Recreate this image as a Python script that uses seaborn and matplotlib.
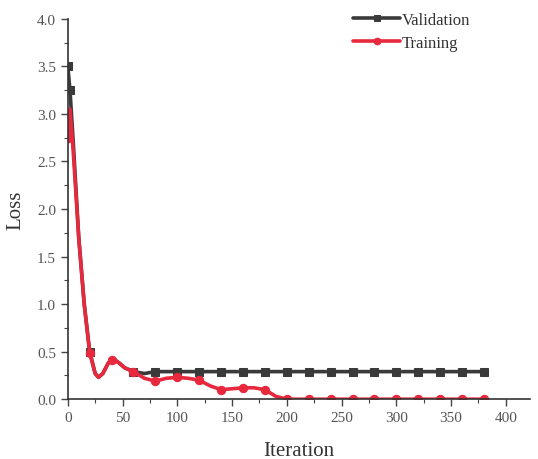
import numpy as np
import pandas as pd
import matplotlib
matplotlib.use("Agg")
import matplotlib.pyplot as plt
from matplotlib.ticker import MultipleLocator
import seaborn as sns

# ---- data ----
val_iter = [0, 2, 5, 10, 15, 20, 25, 28, 32, 37, 42, 47, 52, 60, 70, 80,
            100, 120, 140, 160, 180, 200, 220, 240, 260, 280, 300, 320,
            340, 360, 380]
val_loss = [3.5, 3.25, 2.7, 1.7, 1.0, 0.5, 0.27, 0.23, 0.27, 0.38, 0.42,
            0.38, 0.33, 0.29, 0.27, 0.29, 0.29, 0.29, 0.29, 0.29, 0.29,
            0.29, 0.29, 0.29, 0.29, 0.29, 0.29, 0.29, 0.29, 0.29, 0.29]

train_iter = [0, 2, 5, 10, 15, 20, 25, 28, 32, 37, 40, 42, 47, 52, 60, 70,
              80, 90, 100, 110, 120, 130, 140, 150, 160, 170, 180, 190,
              200, 220, 240, 260, 280, 300, 320, 340, 360, 380]
train_loss = [2.75, 3.05, 2.6, 1.7, 1.0, 0.49, 0.27, 0.23, 0.27, 0.38,
              0.41, 0.42, 0.38, 0.33, 0.29, 0.22, 0.19, 0.22, 0.23, 0.22,
              0.2, 0.14, 0.1, 0.11, 0.12, 0.12, 0.1, 0.03, 0.0, 0.0, 0.0,
              0.0, 0.0, 0.0, 0.0, 0.0, 0.0, 0.0]

series_names = ["Validation", "Training"]
x_ticks = [0, 50, 100, 150, 200, 250, 300, 350, 400]
y_ticks = [0.0, 0.5, 1.0, 1.5, 2.0, 2.5, 3.0, 3.5, 4.0]

sns.set_style("ticks")
plt.rcParams["font.family"] = ["Liberation Serif", "DejaVu Serif"]

fig = plt.figure(figsize=(5.38, 4.60), dpi=100)
ax = fig.add_axes([0.126, 0.130, 0.859, 0.827])

val_df = pd.DataFrame({"Iteration": val_iter, "Loss": val_loss})
tr_df = pd.DataFrame({"Iteration": train_iter, "Loss": train_loss})

val_marks = [i for i, x in enumerate(val_iter) if x % 20 == 0 or x == 2]
tr_marks = [i for i, x in enumerate(train_iter) if x % 20 == 0]

sns.lineplot(data=val_df, x="Iteration", y="Loss", ax=ax, color="#3a3a3a",
             lw=2.6, marker="s", markersize=6, markevery=val_marks,
             markeredgecolor="#3a3a3a", label=series_names[0])
sns.lineplot(data=tr_df, x="Iteration", y="Loss", ax=ax, color="#e8283c",
             lw=2.6, marker="o", markersize=6, markevery=tr_marks,
             markeredgecolor="#e8283c", label=series_names[1])

ax.set_xlim(0, 422)
ax.set_ylim(0, 4.0)
ax.set_xticks(x_ticks)
ax.set_yticks(y_ticks)
ax.set_yticklabels([f"{v:.1f}" for v in y_ticks])
ax.xaxis.set_minor_locator(MultipleLocator(25))
ax.yaxis.set_minor_locator(MultipleLocator(0.25))
ax.tick_params(which="major", direction="out", length=5, width=1,
               colors="#444444", labelsize=11, labelcolor="#555555")
ax.tick_params(which="minor", direction="out", length=3, width=0.8,
               colors="#444444")
for s in ["top", "right"]:
    ax.spines[s].set_visible(False)
for s in ["left", "bottom"]:
    ax.spines[s].set_color("#333333")
    ax.spines[s].set_linewidth(1.2)
ax.spines["left"].set_bounds(0, 4.0)

ax.set_xlabel("Iteration", fontsize=15, color="#333333", labelpad=12)
ax.set_ylabel("Loss", fontsize=15, color="#333333", labelpad=8)

leg = ax.legend(loc="upper right", bbox_to_anchor=(0.885, 1.035), frameon=False,
                fontsize=12, handlelength=2.8, handletextpad=0.1,
                labelspacing=0.4, borderaxespad=0, markerscale=0.8)
for t in leg.get_texts():
    t.set_color("#333333")

fig.savefig("out.png", dpi=100)
